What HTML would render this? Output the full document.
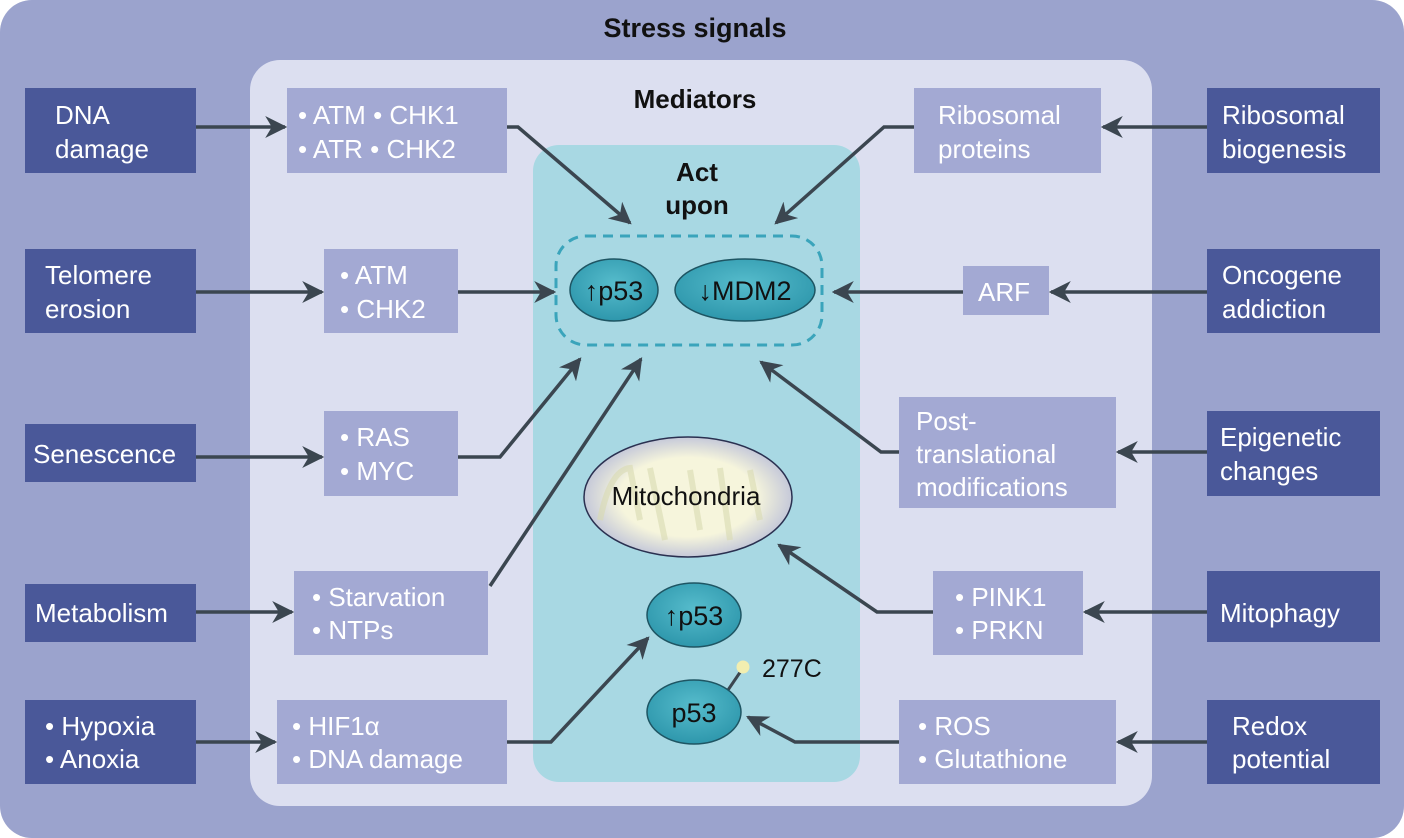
<!DOCTYPE html>
<html><head><meta charset="utf-8"><style>
html,body{margin:0;padding:0;background:#fff;}
svg{display:block;}
text{font-family:"Liberation Sans",sans-serif;}
.w{fill:#fff;font-size:26px;}
.b{fill:#111;font-size:26px;}
.h{fill:#111;font-size:26px;font-weight:bold;}
.dk{fill:#4a5899;}
.md{fill:#a3a9d3;}
.ar{stroke:#3b4650;stroke-width:3.5;fill:none;marker-end:url(#ah);}
</style></head><body>
<svg width="1404" height="838" viewBox="0 0 1404 838">
<defs>
<marker id="ah" viewBox="0 0 10 10" refX="9" refY="5" markerWidth="22" markerHeight="22" markerUnits="userSpaceOnUse" orient="auto"><path d="M0,0 L10,5 L0,10 L3,5 z" fill="#3b4650"/></marker>
<radialGradient id="eg" cx="50%" cy="40%" r="60%"><stop offset="0" stop-color="#56bccc"/><stop offset="1" stop-color="#2e97ac"/></radialGradient>
<radialGradient id="mg" cx="50%" cy="50%" r="55%"><stop offset="0.6" stop-color="#f6f5dc"/><stop offset="1" stop-color="#b7bcd8"/></radialGradient>
</defs>
<rect x="0" y="0" width="1404" height="838" rx="32" fill="#9ba3cd"/>
<text x="695" y="37" text-anchor="middle" class="h" style="font-size:27px">Stress signals</text>
<rect x="250" y="60" width="902" height="746" rx="30" fill="#dcdff0"/>
<text x="695" y="108" text-anchor="middle" class="h">Mediators</text>
<rect x="533" y="145" width="327" height="637" rx="26" fill="#a8d8e3"/>
<text x="697" y="181" text-anchor="middle" class="h">Act</text>
<text x="697" y="214" text-anchor="middle" class="h">upon</text>
<rect x="556" y="236" width="266" height="109" rx="30" fill="none" stroke="#3aa4bb" stroke-width="3" stroke-dasharray="10,7"/>
<ellipse cx="614" cy="290" rx="44" ry="31" fill="url(#eg)" stroke="#1e5563" stroke-width="1.5"/>
<text x="614" y="300" text-anchor="middle" class="b" style="font-size:27px">↑p53</text>
<ellipse cx="745" cy="290" rx="70" ry="31" fill="url(#eg)" stroke="#1e5563" stroke-width="1.5"/>
<text x="745" y="300" text-anchor="middle" class="b" style="font-size:27px">↓MDM2</text>
<ellipse cx="688" cy="497" rx="104" ry="60" fill="url(#mg)" stroke="#2a3050" stroke-width="1.5"/>
<path d="M600,520 Q610,470 630,468 L640,520 M650,468 L665,540 M690,470 L700,530 M720,468 L730,540 M750,470 L760,520" stroke="#d9dbb0" stroke-width="6" fill="none" opacity="0.6"/>
<text x="686" y="505" text-anchor="middle" class="b" style="font-size:26px">Mitochondria</text>
<ellipse cx="694" cy="615" rx="47" ry="32" fill="url(#eg)" stroke="#1e5563" stroke-width="1.5"/>
<text x="694" y="625" text-anchor="middle" class="b" style="font-size:27px">↑p53</text>
<line x1="728" y1="690" x2="743" y2="668" stroke="#3b4650" stroke-width="3"/>
<circle cx="743" cy="667" r="6.5" fill="#f2eeb0"/>
<ellipse cx="694" cy="712" rx="47" ry="32" fill="url(#eg)" stroke="#1e5563" stroke-width="1.5"/>
<text x="694" y="722" text-anchor="middle" class="b" style="font-size:27px">p53</text>
<text x="762" y="677" class="b" style="font-size:25px">277C</text>

<rect x="25" y="88" width="171" height="85" class="dk"/>
<text x="55" y="124" class="w">DNA</text><text x="55" y="158" class="w">damage</text>
<rect x="25" y="249" width="171" height="84" class="dk"/>
<text x="45" y="284" class="w">Telomere</text><text x="45" y="318" class="w">erosion</text>
<rect x="25" y="424" width="171" height="58" class="dk"/>
<text x="33" y="463" class="w">Senescence</text>
<rect x="25" y="584" width="171" height="58" class="dk"/>
<text x="35" y="622" class="w">Metabolism</text>
<rect x="25" y="700" width="171" height="84" class="dk"/>
<text x="45" y="735" class="w">• Hypoxia</text><text x="45" y="768" class="w">• Anoxia</text>

<rect x="1207" y="88" width="173" height="85" class="dk"/>
<text x="1222" y="124" class="w">Ribosomal</text><text x="1222" y="158" class="w">biogenesis</text>
<rect x="1207" y="249" width="173" height="84" class="dk"/>
<text x="1222" y="284" class="w">Oncogene</text><text x="1222" y="318" class="w">addiction</text>
<rect x="1207" y="411" width="173" height="85" class="dk"/>
<text x="1220" y="446" class="w">Epigenetic</text><text x="1220" y="480" class="w">changes</text>
<rect x="1207" y="571" width="173" height="71" class="dk"/>
<text x="1220" y="622" class="w">Mitophagy</text>
<rect x="1207" y="700" width="173" height="84" class="dk"/>
<text x="1232" y="735" class="w">Redox</text><text x="1232" y="768" class="w">potential</text>

<rect x="287" y="88" width="220" height="85" class="md"/>
<text x="298" y="124" class="w">• ATM  • CHK1</text><text x="298" y="158" class="w">• ATR   • CHK2</text>
<rect x="324" y="249" width="134" height="84" class="md"/>
<text x="340" y="284" class="w">• ATM</text><text x="340" y="318" class="w">• CHK2</text>
<rect x="324" y="411" width="134" height="85" class="md"/>
<text x="340" y="446" class="w">• RAS</text><text x="340" y="480" class="w">• MYC</text>
<rect x="294" y="571" width="194" height="84" class="md"/>
<text x="312" y="606" class="w">• Starvation</text><text x="312" y="639" class="w">• NTPs</text>
<rect x="277" y="700" width="230" height="84" class="md"/>
<text x="292" y="735" class="w">• HIF1α</text><text x="292" y="768" class="w">• DNA damage</text>

<rect x="914" y="88" width="187" height="85" class="md"/>
<text x="938" y="124" class="w">Ribosomal</text><text x="938" y="158" class="w">proteins</text>
<rect x="963" y="266" width="86" height="49" class="md"/>
<text x="978" y="301" class="w">ARF</text>
<rect x="899" y="397" width="217" height="111" class="md"/>
<text x="916" y="430" class="w">Post-</text><text x="916" y="463" class="w">translational</text><text x="916" y="496" class="w">modifications</text>
<rect x="933" y="571" width="150" height="84" class="md"/>
<text x="955" y="606" class="w">• PINK1</text><text x="955" y="639" class="w">• PRKN</text>
<rect x="899" y="700" width="217" height="84" class="md"/>
<text x="918" y="735" class="w">• ROS</text><text x="918" y="768" class="w">• Glutathione</text>

<path class="ar" d="M196,127 H285"/>
<path class="ar" d="M1207,127 H1103"/>
<path class="ar" d="M507,127 H518 L630,223"/>
<path class="ar" d="M914,127 H884 L776,223"/>
<path class="ar" d="M196,292 H322"/>
<path class="ar" d="M458,292 H554"/>
<path class="ar" d="M1207,292 H1051"/>
<path class="ar" d="M963,292 H834"/>
<path class="ar" d="M196,457 H322"/>
<path class="ar" d="M458,457 H500 L580,359"/>
<path class="ar" d="M196,612 H292"/>
<path class="ar" d="M490,586 L641,359"/>
<path class="ar" d="M1207,452 H1118"/>
<path class="ar" d="M899,452 H881 L761,362"/>
<path class="ar" d="M1207,612 H1085"/>
<path class="ar" d="M933,612 H877 L779,545"/>
<path class="ar" d="M196,742 H275"/>
<path class="ar" d="M507,742 H551 L648,638"/>
<path class="ar" d="M1207,742 H1118"/>
<path class="ar" d="M899,742 H795 L748,717"/>
</svg>
</body></html>
